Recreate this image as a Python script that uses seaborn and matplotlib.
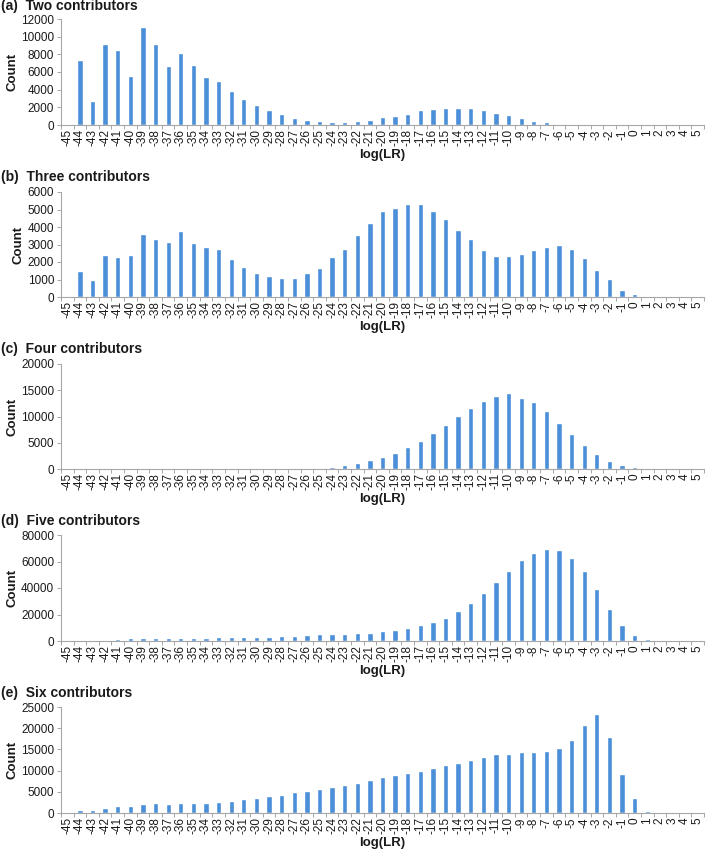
import matplotlib
matplotlib.use("Agg")
import numpy as np
import pandas as pd
import matplotlib.pyplot as plt
import seaborn as sns

sns.set_theme(style="white")
plt.rcParams["font.family"] = ["Liberation Sans", "DejaVu Sans"]
plt.rcParams["axes.unicode_minus"] = False

# log(LR) categories, -45 .. 5
log_lr = [str(v) for v in range(-45, 6)]

two_contrib = [0, 7400, 2700, 9200, 8500, 5500, 11050, 9200, 6700, 8150,
               6800, 5400, 5000, 3900, 2900, 2270, 1750, 1200, 800, 550,
               450, 350, 350, 500, 550, 870, 1000, 1300, 1650, 1800,
               1900, 1900, 1900, 1650, 1350, 1100, 800, 500, 330, 150,
               120, 0, 0, 0, 0, 0, 0, 0, 0, 0, 0]

three_contrib = [0, 1490, 990, 2400, 2270, 2400, 3600, 3300, 3160, 3800,
                 3100, 2840, 2720, 2190, 1730, 1390, 1200, 1070, 1070, 1350,
                 1660, 2290, 2760, 3560, 4230, 4900, 5070, 5330, 5330, 4900,
                 4440, 3810, 3330, 2700, 2320, 2360, 2460, 2670, 2860, 3000,
                 2720, 2230, 1540, 1010, 420, 150, 0, 0, 0, 0, 0]

four_contrib = [0, 0, 0, 0, 0, 0, 0, 0, 0, 0,
                0, 0, 0, 0, 0, 0, 0, 0, 0, 200,
                250, 450, 750, 1080, 1650, 2200, 3000, 4200, 5300, 6800,
                8400, 10100, 11700, 12900, 13900, 14500, 13600, 12800, 11000, 8800,
                6700, 4600, 2800, 1460, 760, 300, 0, 0, 0, 0, 0]

five_contrib = [0, 0, 800, 800, 1500, 2000, 2000, 2000, 2000, 2000,
                2000, 2000, 2800, 2800, 2800, 3300, 3300, 3800, 3800, 4300,
                5000, 5600, 5600, 6200, 6300, 7800, 8300, 9600, 11900, 14200,
                17700, 22500, 28400, 36200, 44300, 53200, 60800, 66600, 69100, 68400,
                63000, 53200, 39500, 24000, 12400, 4800, 1500, 0, 0, 0, 0]

six_contrib = [0, 630, 630, 1200, 1730, 1730, 2050, 2300, 2050, 2300,
               2300, 2300, 2700, 2900, 3200, 3600, 3950, 4350, 4900, 5300,
               5750, 6150, 6700, 7000, 7800, 8500, 8900, 9500, 9850, 10500,
               11300, 11800, 12500, 13250, 13800, 14000, 14300, 14400, 14600, 15300,
               17100, 20700, 23300, 17900, 9200, 3500, 550, 0, 0, 0, 0]

panels = [
    ("(a)  Two contributors", two_contrib, 12000, 2000),
    ("(b)  Three contributors", three_contrib, 6000, 1000),
    ("(c)  Four contributors", four_contrib, 20000, 5000),
    ("(d)  Five contributors", five_contrib, 80000, 20000),
    ("(e)  Six contributors", six_contrib, 25000, 5000),
]

W, H = 709, 850
# (top, bottom) of each axes in pixels, and title centre
axes_px = [(19, 125), (192, 297), (364, 469), (535, 641), (707, 813)]
title_px = [6, 177, 349, 521, 693]
left_px, right_px = 61, 704

BAR = "#4A8FD8"
SPINE = "#A6A6A6"
TXT = "#1a1a1a"


def main():
    fig = plt.figure(figsize=(W / 100, H / 100), dpi=100)

    for (title, vals, ymax, ystep), (top, bot), ty in zip(panels, axes_px, title_px):
        ax = fig.add_axes([left_px / W, 1 - bot / H,
                           (right_px - left_px) / W, (bot - top) / H])
        df = pd.DataFrame({"log(LR)": log_lr, "Count": vals})
        sns.barplot(data=df, x="log(LR)", y="Count", order=log_lr,
                    color=BAR, saturation=1, width=0.42, ax=ax)

        ax.set_xlim(-0.5, len(log_lr) - 0.5)
        ax.set_ylim(0, ymax)
        ax.set_yticks(np.arange(0, ymax + 1, ystep))
        ax.tick_params(axis="y", labelsize=8.5, length=3, width=0.7,
                       color=SPINE, left=True, pad=2, labelcolor=TXT)
        ax.tick_params(axis="x", which="major", labelsize=8.5, rotation=90,
                       length=0, pad=3, labelcolor=TXT)
        ax.set_xticks(np.arange(-0.5, len(log_lr), 1), minor=True)
        ax.tick_params(axis="x", which="minor", length=3, width=0.7,
                       color=SPINE, bottom=True)

        for s in ("top", "right"):
            ax.spines[s].set_visible(False)
        for s in ("left", "bottom"):
            ax.spines[s].set_color(SPINE)
            ax.spines[s].set_linewidth(0.8)

        ax.set_ylabel("Count", fontsize=9.5, fontweight="bold", labelpad=2,
                      color=TXT)
        ax.set_xlabel("log(LR)", fontsize=9.5, fontweight="bold", labelpad=2,
                      color=TXT)
        ax.grid(False)

        fig.text(1 / W, 1 - ty / H, title, fontsize=10, fontweight="bold",
                 ha="left", va="center", color=TXT)

    fig.savefig("out.png", dpi=100)


if __name__ == "__main__":
    main()
